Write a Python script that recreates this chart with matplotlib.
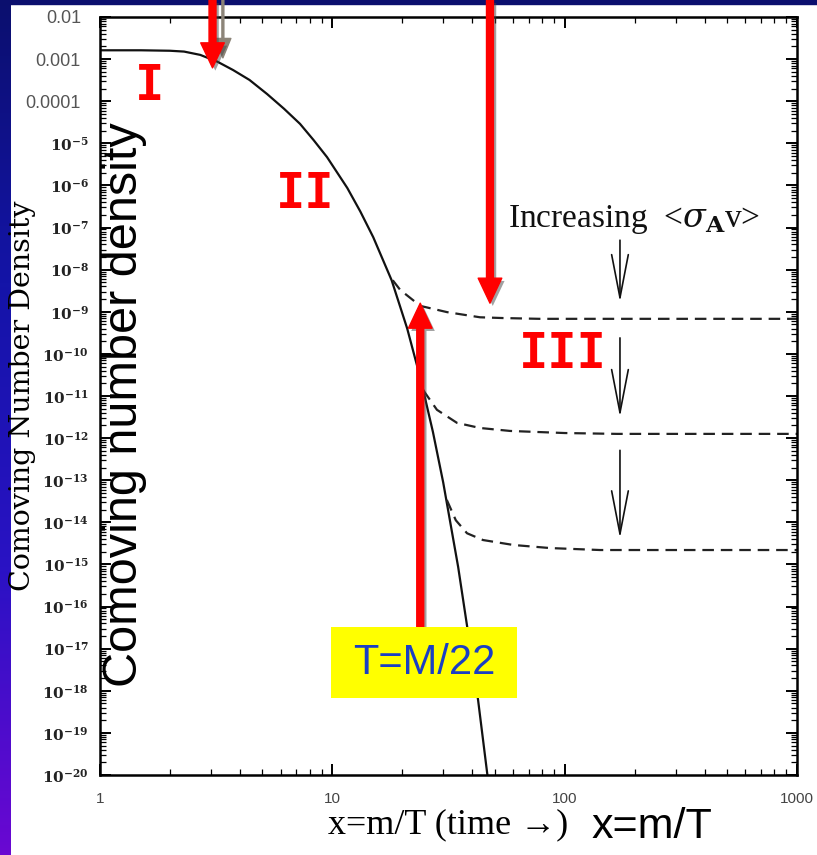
import numpy as np
import matplotlib
matplotlib.use("Agg")
import matplotlib.pyplot as plt
import matplotlib.patheffects as pe
from matplotlib.colors import LinearSegmentedColormap
from matplotlib.patches import Rectangle
from matplotlib.ticker import LogLocator, NullFormatter
from matplotlib.transforms import ScaledTranslation

plt.rcParams['mathtext.fontset'] = 'dejavuserif'

# equilibrium abundance (solid line)
x_eq = [1.0, 1.5, 2.0, 2.3, 2.7, 3.2, 3.74, 4.4, 5.24, 6.2, 7.26, 8.3, 9.49,
        11.6, 13.2, 15.0, 18.0, 21.0, 24.0, 27.1, 30.0, 34.8, 38.0, 42.4, 46.4, 48.0]
y_eq = [1.62e-3, 1.62e-3, 1.58e-3, 1.51e-3, 1.26e-3, 8.7e-4, 5.5e-4, 3.2e-4, 1.48e-4,
        6.6e-5, 2.9e-5, 1.2e-5, 4.7e-6, 8.7e-7, 2.4e-7, 5.9e-8, 5.6e-9, 4.0e-10,
        2.5e-11, 1.4e-12, 8.9e-14, 8.7e-16, 3.5e-17, 6.0e-19, 1.1e-20, 2.5e-21]

# freeze-out curves (dashed), one per cross-section
x_fo_1 = [18.2, 19.6, 23.9, 31.2, 43.2, 54.1, 78.0, 1000.0]
y_fo_1 = [5.6e-9, 3.3e-9, 1.38e-9, 9.8e-10, 7.4e-10, 7.1e-10, 6.8e-10, 6.8e-10]
x_fo_2 = [24.6, 28.2, 34.4, 43.2, 58.2, 100.0, 168.0, 1000.0]
y_fo_2 = [1.38e-11, 4.7e-12, 2.3e-12, 1.74e-12, 1.48e-12, 1.32e-12, 1.26e-12, 1.26e-12]
x_fo_3 = [31.1, 34.0, 38.0, 44.5, 60.1, 86.5, 142.0, 1000.0]
y_fo_3 = [3.4e-14, 1.12e-14, 5.5e-15, 3.8e-15, 2.9e-15, 2.45e-15, 2.2e-15, 2.2e-15]

x_ticks = [1, 10, 100, 1000]
x_tick_labels = ['1', '10', '100', '1000']
y_ticks = [10.0 ** e for e in range(-20, -1)]
y_tick_labels = [r'$\mathbf{10^{%d}}$' % e for e in range(-20, -4)] + ['0.0001', '0.001', '0.01']

W, H = 817, 855
fig = plt.figure(figsize=(W / 100, H / 100), dpi=100)
fig.patch.set_facecolor('white')

# slide frame: gradient strip at left, dark band at top
bg = fig.add_axes([0, 0, 1, 1], zorder=-1)
slide = LinearSegmentedColormap.from_list('slide', ['#0b0f6e', '#1414a8', '#2a12c4', '#6a08d2'])
bg.imshow(np.linspace(0, 1, 256)[:, None], cmap=slide, extent=(0, 11, H, 0), aspect='auto')
bg.add_patch(Rectangle((0, 0), W, 4, color='#0b0f6e'))
bg.set_xlim(0, W)
bg.set_ylim(H, 0)
bg.axis('off')

ax = fig.add_axes([100 / W, 1 - 775 / H, 697 / W, 758 / H])
ax.plot(x_eq, y_eq, color='#111111', lw=1.6)
for xs, ys in [(x_fo_1, y_fo_1), (x_fo_2, y_fo_2), (x_fo_3, y_fo_3)]:
    ax.plot(xs, ys, color='#222222', lw=1.6, dashes=(5.2, 3.1))

ax.set_xscale('log')
ax.set_yscale('log')
ax.set_xlim(1, 1000)
ax.set_ylim(1e-20, 1e-2)
ax.set_xticks(x_ticks, x_tick_labels)
ax.set_yticks(y_ticks, y_tick_labels)
for axis in (ax.xaxis, ax.yaxis):
    axis.set_minor_locator(LogLocator(10, subs=np.arange(2, 10), numticks=200))
    axis.set_minor_formatter(NullFormatter())
ax.tick_params(which='both', direction='in', top=True, right=True)
ax.tick_params(which='major', length=8, width=1.4)
ax.tick_params(which='minor', length=4, width=0.9)
ax.tick_params(axis='x', pad=12, labelsize=11, labelcolor='#444444')
ax.tick_params(axis='y', pad=8)
for lab in ax.get_xticklabels():
    lab.set_fontfamily('Liberation Sans')
shift = ScaledTranslation(-0.08, 0, fig.dpi_scale_trans)
for lab, val in zip(ax.get_yticklabels(), y_ticks):
    if val >= 1e-4:
        lab.set_fontfamily('Liberation Sans')
        lab.set_fontsize(13)
        lab.set_color('#555555')
        lab.set_transform(lab.get_transform() + shift)
    else:
        lab.set_fontsize(11)
        lab.set_color('#222222')
for s in ax.spines.values():
    s.set_linewidth(1.8)

ax.set_xlabel('x=m/T (time \u2192)', fontfamily='Liberation Serif', fontsize=26, labelpad=2)
ax.set_ylabel('Comoving Number Density', fontfamily='DejaVu Serif', fontsize=20.5)
ax.yaxis.set_label_coords(-0.092, 0.5)

# annotations from the original figure
ax.annotate('', xy=(3.38, 1.07e-3), xytext=(3.38, 2.5e-2), annotation_clip=False,
            arrowprops=dict(arrowstyle='simple,head_length=14,head_width=11.5,tail_width=1.4',
                            mutation_scale=1, color='#8c8478', shrinkA=0, shrinkB=0))
ax.text(199, 10 ** -6.82, r'Increasing  <$\sigma_\mathbf{A}$v>', fontfamily='Liberation Serif',
        fontsize=24, ha='center', va='center', color='#111111')
black = dict(arrowstyle='->,head_length=31,head_width=6', mutation_scale=1, lw=1.2,
             color='#111111', shrinkA=0, shrinkB=0)
for y0, y1 in [(10 ** -7.30, 10 ** -8.77), (10 ** -9.62, 10 ** -11.5), (10 ** -12.29, 10 ** -14.38)]:
    ax.annotate('', xy=(173, y1), xytext=(173, y0), arrowprops=black)

# slide annotations in red
red = dict(arrowstyle='simple,head_length=18,head_width=17,tail_width=5', mutation_scale=1,
           color='#ff0000', shrinkA=0, shrinkB=0,
           path_effects=[pe.withSimplePatchShadow(offset=(2, -2), shadow_rgbFace='#444444', alpha=0.5)])
ax.annotate('', xy=(3.05, 6.2e-4), xytext=(3.05, 2.5e-2), arrowprops=red, annotation_clip=False)
ax.annotate('', xy=(47.7, 1.6e-9), xytext=(47.7, 2.5e-2), arrowprops=red, annotation_clip=False)
ax.annotate('', xy=(23.9, 1.6e-9), xytext=(23.9, 2.7e-17), arrowprops=red, annotation_clip=False)

numeral = dict(fontfamily='DejaVu Sans Mono', fontweight='bold', fontsize=35, color='#ff0000',
               ha='center', va='center')
ax.text(1.64, 10 ** -3.64, 'I', **numeral)
ax.text(7.63, 10 ** -6.20, 'II', **numeral)
ax.text(98.4, 10 ** -10.0, 'III', **numeral)

# overlay in slide pixels
ov = fig.add_axes([0, 0, 1, 1], zorder=5)
ov.set_xlim(0, W)
ov.set_ylim(H, 0)
ov.axis('off')
ov.add_patch(Rectangle((331, 627), 186, 71, facecolor='#ffff00', edgecolor='none'))
ov.text(424, 663, 'T=M/22', fontfamily='Liberation Sans', fontsize=30, color='#1a3fc4',
        ha='center', va='center')
ov.text(125, 405, 'Comoving number density', fontfamily='Liberation Sans', fontsize=35,
        rotation=90, ha='center', va='center', color='black')
ov.text(652, 827, 'x=m/T', fontfamily='Liberation Sans', fontsize=31, color='black',
        ha='center', va='center')

fig.savefig('out.png', dpi=100, facecolor='white')
